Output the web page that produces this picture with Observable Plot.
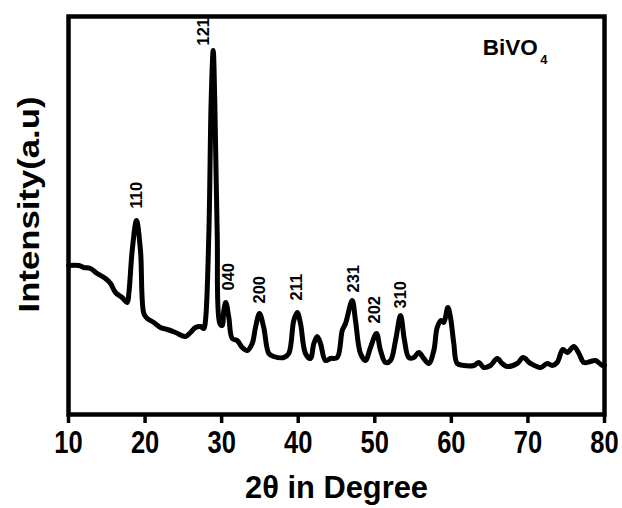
<!DOCTYPE html>
<html>
<head>
<meta charset="utf-8">
<script src="https://cdn.jsdelivr.net/npm/d3@7"></script>
<script src="https://cdn.jsdelivr.net/npm/@observablehq/plot@0.6"></script>
<style>
  html, body { margin: 0; padding: 0; background: #fff; }
  #chart svg { display: block; font-family: "Liberation Sans", Arial, sans-serif; }
</style>
</head>
<body>
<div id="chart"></div>
<script>
// XRD pattern of BiVO4: diffraction angle 2θ (degrees) and intensity (a.u.)
const twoTheta = [
  10.0, 11.35, 12.0, 12.87, 13.75, 14.83, 15.49, 16.14, 17.0, 17.67,
  17.88, 18.32, 18.88, 19.4, 19.84, 20.28, 21.14, 22.0, 22.9, 23.97,
  25.28, 25.93, 26.59, 27.24, 27.67, 27.89, 28.33, 28.63, 28.9, 29.1,
  29.42, 29.76, 30.07, 30.28, 30.54, 30.94, 31.38, 32.03, 32.68, 33.34,
  33.99, 34.42, 34.94, 35.5, 36.16, 36.81, 38.12, 38.77, 39.42, 39.87,
  40.3, 40.95, 41.6, 42.04, 42.48, 42.91, 43.56, 44.22, 45.09, 45.75,
  46.18, 47.05, 47.48, 48.13, 48.79, 49.44, 50.22, 50.75, 51.4, 52.05,
  52.71, 53.36, 53.88, 54.44, 55.1, 55.75, 56.4, 57.06, 57.71, 58.15,
  58.67, 59.01, 59.54, 59.89, 60.32, 60.76, 61.63, 62.93, 63.59, 64.24,
  65.11, 65.99, 66.64, 67.29, 68.6, 69.38, 70.34, 71.64, 72.52, 73.17,
  73.82, 74.56, 75.13, 76.0, 76.66, 77.3, 78.17, 78.83, 79.7, 80.0
];
const intensity = [
  149, 149, 147, 146, 141, 136, 131, 122, 117, 112,
  121, 164, 194, 164, 101, 96, 92, 87, 85, 82,
  78, 82, 87, 88, 86, 94, 181, 314, 364, 314,
  181, 91, 89, 104, 112, 97, 76, 74, 67, 64,
  71, 87, 101, 87, 61, 58, 57, 61, 94, 102,
  91, 61, 56, 71, 78, 71, 54, 56, 57, 84,
  91, 114, 94, 61, 54, 67, 81, 64, 52, 54,
  74, 99, 74, 57, 57, 62, 56, 51, 64, 87,
  94, 92, 107, 97, 71, 51, 49, 49, 52, 47,
  49, 56, 51, 48, 51, 57, 51, 47, 51, 49,
  52, 65, 62, 68, 61, 52, 53, 54, 49, 49
];

// Miller indices of the indexed reflections and where their labels sit
const hkl = ["110", "121", "040", "200", "211", "231", "202", "310"];
const hklX = [18.88, 27.63, 30.94, 34.92, 39.78, 47.26, 49.97, 53.36];
const hklY = [206, 369, 124, 111, 114, 122, 91, 106];

const xTicks = [10, 20, 30, 40, 50, 60, 70, 80];
const xDomain = [10, 80];
const yDomain = [0, 398];

const xTitle = "2θ in Degree";
const yTitle = "Intensity(a.u)";

const pattern = twoTheta.map((t, i) => ({t, v: intensity[i]}));
const peaks = hkl.map((h, i) => ({h, x: hklX[i], y: hklY[i]}));

const chart = Plot.plot({
  width: 622,
  height: 508,
  marginLeft: 68,
  marginRight: 18,
  marginTop: 16,
  marginBottom: 94,
  x: {domain: xDomain, axis: null},
  y: {domain: yDomain, axis: null},
  marks: [
    Plot.line(pattern, {
      x: "t", y: "v", curve: "catmull-rom",
      stroke: "#000", strokeWidth: 5, strokeLinejoin: "round", strokeLinecap: "round"
    }),
    Plot.text(peaks, {
      x: "x", y: "y", text: "h", rotate: -90, textAnchor: "start",
      fontSize: 16.5, fontWeight: "bold", fill: "#000"
    }),
    Plot.text(["BiVO"], {
      x: 64.1, y: 360, text: d => d, textAnchor: "start", lineAnchor: "bottom",
      fontSize: 22.5, fontWeight: "bold", fill: "#000"
    }),
    Plot.text(["4"], {
      x: 71.6, y: 351, text: d => d, textAnchor: "start", lineAnchor: "bottom",
      fontSize: 13, fontWeight: "bold", fill: "#000"
    }),
    Plot.axisX({
      ticks: xTicks, tickFormat: d => d, tickSize: 9, tickPadding: 8,
      strokeWidth: 3.5, fontSize: 29, fontWeight: "bold", label: null
    }),
    Plot.frame({stroke: "#000", strokeWidth: 4.5}),
    Plot.text([xTitle], {
      frameAnchor: "bottom", dy: 82, text: d => d,
      fontSize: 29, fontWeight: "bold", fill: "#000"
    }),
    Plot.text([yTitle], {
      frameAnchor: "left", textAnchor: "middle", dx: -39, dy: -11, rotate: -90,
      text: d => d, fontSize: 29, fontWeight: "bold", fill: "#000"
    })
  ]
});

document.getElementById("chart").appendChild(chart);

// Narrow, tall cut for the horizontal axis text, scaled about each label's centre
const tickStrings = new Set(xTicks.map(String));
for (const t of chart.querySelectorAll("text")) {
  const s = t.textContent;
  if (!tickStrings.has(s) && s !== xTitle) continue;
  const b = t.getBBox();
  const cx = b.x + b.width / 2, cy = b.y + b.height / 2;
  const sx = s === xTitle ? 1 : 0.88, sy = 1.1;
  const tr = t.getAttribute("transform") || "";
  t.setAttribute("transform", `${tr} translate(${cx},${cy}) scale(${sx},${sy}) translate(${-cx},${-cy})`);
}

// The axis titles are set wide: stretch them to their drawn length
for (const t of chart.querySelectorAll("text")) {
  if (t.textContent === yTitle) {
    t.setAttribute("textLength", 216);
    t.setAttribute("lengthAdjust", "spacingAndGlyphs");
  } else if (t.textContent === xTitle) {
    t.setAttribute("textLength", 183);
    t.setAttribute("lengthAdjust", "spacingAndGlyphs");
  }
}
</script>
</body>
</html>
